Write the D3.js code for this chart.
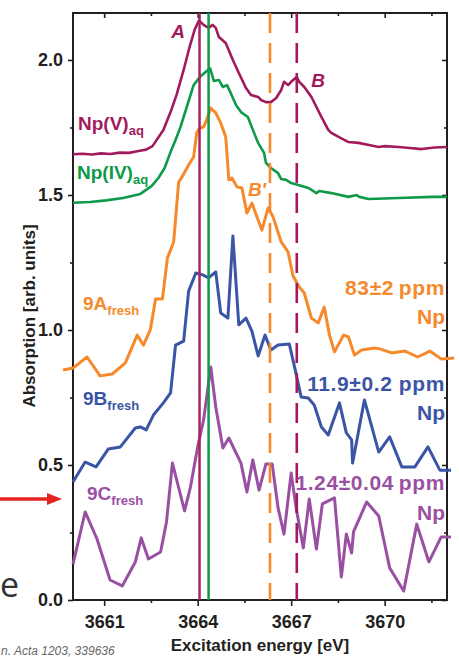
<!DOCTYPE html>
<html>
<head>
<meta charset="utf-8">
<script src="https://cdn.jsdelivr.net/npm/d3@7"></script>
<style>
  body { margin: 0; background: #fff; }
  svg { display: block; font-family: "Liberation Sans", Arial, sans-serif; }
</style>
</head>
<body>
<div class="chart"></div>
<script>
// energies [eV] and absorption [arb. units]
const npV = [
  [3660.0, 1.651], [3660.3, 1.653], [3660.6, 1.650], [3660.9, 1.654], [3661.2, 1.652],
  [3661.5, 1.657], [3661.8, 1.656], [3662.1, 1.663], [3662.35, 1.668], [3662.55, 1.681],
  [3662.9, 1.741], [3663.13, 1.807], [3663.32, 1.870], [3663.55, 1.963], [3663.74, 2.048],
  [3663.9, 2.111], [3664.04, 2.146], [3664.19, 2.130], [3664.35, 2.119], [3664.48, 2.130],
  [3664.58, 2.119], [3664.68, 2.085], [3664.9, 2.063], [3665.13, 2.0], [3665.32, 1.952],
  [3665.55, 1.896], [3665.71, 1.870], [3665.94, 1.863], [3666.03, 1.852], [3666.19, 1.844],
  [3666.35, 1.844], [3666.52, 1.859], [3666.68, 1.889], [3666.77, 1.919], [3666.9, 1.907],
  [3667.0, 1.919], [3667.18, 1.937], [3667.26, 1.919], [3667.42, 1.9], [3667.65, 1.863],
  [3667.97, 1.789], [3668.19, 1.741], [3668.29, 1.730], [3668.52, 1.715], [3668.84, 1.696],
  [3669.16, 1.693], [3669.5, 1.685], [3669.81, 1.678], [3670.0, 1.681], [3670.45, 1.678],
  [3670.8, 1.674], [3671.19, 1.670], [3671.6, 1.676], [3672.0, 1.678]
];
const npIV = [
  [3660.0, 1.471], [3660.55, 1.474], [3661.06, 1.480], [3661.61, 1.489], [3662.16, 1.504],
  [3662.52, 1.533], [3662.74, 1.563], [3662.94, 1.600], [3663.13, 1.659], [3663.29, 1.704],
  [3663.45, 1.752], [3663.68, 1.837], [3663.87, 1.907], [3664.1, 1.941], [3664.4, 1.969],
  [3664.52, 1.922], [3664.68, 1.926], [3664.81, 1.900], [3664.94, 1.907], [3665.06, 1.878],
  [3665.23, 1.833], [3665.39, 1.807], [3665.61, 1.789], [3665.81, 1.730], [3665.94, 1.693],
  [3666.13, 1.656], [3666.19, 1.619], [3666.35, 1.600], [3666.58, 1.581], [3666.68, 1.559],
  [3666.84, 1.556], [3667.0, 1.544], [3667.23, 1.537], [3667.55, 1.526], [3667.81, 1.507],
  [3667.9, 1.515], [3668.29, 1.507], [3668.84, 1.493], [3669.1, 1.500], [3669.19, 1.493],
  [3669.48, 1.485], [3670.45, 1.489], [3671.52, 1.493], [3672.0, 1.493]
];
const sample9A = [
  [3659.68, 0.852], [3660.0, 0.859], [3660.45, 0.900], [3660.87, 0.830], [3661.26, 0.837],
  [3661.68, 0.878], [3662.06, 0.981], [3662.26, 0.944], [3662.48, 1.000], [3662.65, 1.115],
  [3662.87, 1.115], [3663.03, 1.267], [3663.23, 1.326], [3663.39, 1.548], [3663.48, 1.563],
  [3663.71, 1.611], [3663.87, 1.641], [3663.97, 1.730], [3664.06, 1.748], [3664.19, 1.752],
  [3664.29, 1.778], [3664.42, 1.822], [3664.58, 1.804], [3664.74, 1.767], [3664.9, 1.715],
  [3665.0, 1.556], [3665.1, 1.563], [3665.26, 1.530], [3665.42, 1.526], [3665.58, 1.433],
  [3665.74, 1.470], [3665.9, 1.419], [3666.06, 1.370], [3666.26, 1.452], [3666.42, 1.419],
  [3666.68, 1.326], [3666.9, 1.289], [3667.06, 1.200], [3667.26, 1.159], [3667.42, 1.137],
  [3667.65, 1.044], [3667.87, 1.026], [3668.06, 1.085], [3668.23, 0.981], [3668.39, 0.919],
  [3668.68, 0.981], [3668.84, 0.974], [3669.03, 0.907], [3669.26, 0.926], [3669.68, 0.933],
  [3669.84, 0.930], [3670.23, 0.915], [3670.65, 0.922], [3671.06, 0.900], [3671.45, 0.922],
  [3671.81, 0.893], [3672.23, 0.896]
];
const sample9B = [
  [3660.0, 0.437], [3660.39, 0.511], [3660.74, 0.493], [3661.13, 0.559], [3661.52, 0.567],
  [3662.0, 0.637], [3662.16, 0.641], [3662.35, 0.630], [3662.58, 0.685], [3662.9, 0.730],
  [3663.13, 0.767], [3663.29, 0.944], [3663.55, 0.959], [3663.71, 1.144], [3663.94, 1.211],
  [3664.16, 1.204], [3664.35, 1.193], [3664.58, 1.215], [3664.74, 1.063], [3664.97, 1.044],
  [3665.13, 1.348], [3665.32, 1.019], [3665.55, 1.044], [3665.74, 0.996], [3665.94, 0.904],
  [3666.16, 0.981], [3666.35, 0.926], [3666.58, 0.944], [3666.94, 0.948], [3667.13, 0.852],
  [3667.32, 0.752], [3667.55, 0.748], [3667.74, 0.722], [3667.97, 0.641], [3668.19, 0.611],
  [3668.55, 0.730], [3668.77, 0.619], [3668.94, 0.593], [3668.97, 0.507], [3669.35, 0.741],
  [3669.81, 0.548], [3670.16, 0.604], [3670.55, 0.493], [3670.97, 0.493], [3671.39, 0.567],
  [3671.77, 0.481], [3672.13, 0.481]
];
const sample9C = [
  [3660.0, 0.133], [3660.39, 0.326], [3660.77, 0.226], [3661.19, 0.074], [3661.58, 0.052],
  [3662.0, 0.141], [3662.19, 0.230], [3662.42, 0.152], [3662.81, 0.178], [3663.0, 0.289],
  [3663.19, 0.507], [3663.58, 0.330], [3663.77, 0.419], [3664.0, 0.567], [3664.19, 0.667],
  [3664.42, 0.863], [3664.58, 0.715], [3664.81, 0.563], [3665.0, 0.600], [3665.39, 0.507],
  [3665.58, 0.400], [3665.77, 0.519], [3665.97, 0.407], [3666.19, 0.504], [3666.39, 0.504],
  [3666.58, 0.341], [3666.77, 0.244], [3667.0, 0.470], [3667.16, 0.341], [3667.39, 0.193],
  [3667.58, 0.374], [3667.81, 0.189], [3668.0, 0.356], [3668.39, 0.378], [3668.61, 0.085],
  [3668.77, 0.244], [3668.94, 0.174], [3669.0, 0.252], [3669.42, 0.363], [3669.81, 0.311],
  [3670.16, 0.119], [3670.61, 0.033], [3671.03, 0.281], [3671.42, 0.141], [3671.81, 0.233],
  [3672.13, 0.233]
];

// reference energies for A (Np(V), Np(IV)) and B', B
const solidLines = [3664.06, 3664.35];
const dashedLines = [3666.32, 3667.18];

const xMajor = [3661, 3664, 3667, 3670];
const xMinor = [3662.5, 3665.5, 3668.5, 3671.5];
const yMajor = [0, 0.5, 1.0, 1.5, 2.0];
const yMinor = [0.25, 0.75, 1.25, 1.75];

const maroon = '#a21a5c';
const green = '#0e9a48';
const orange = '#f5892b';
const blue = '#3b55a6';
const purple = '#9a50a2';
const ink = '#231f20';

const width = 459;
const height = 657;
const plotLeft = 73;
const plotRight = 447;
const plotTop = 13;
const plotBottom = 600;

const svg = d3
    .select('div.chart')
    .append('svg')
    .attr('width', width)
    .attr('height', height);

const x = d3.scaleLinear().domain([3660, 3672]).range([plotLeft, plotRight]);
const y = d3.scaleLinear().domain([0, 2.174]).range([plotBottom, plotTop]);

// axes: outward ticks with labels on bottom/left, inward mirror ticks top/right
function styleAxis(g) {
  g.select('.domain').remove();
  g.selectAll('line').attr('stroke', ink).attr('stroke-width', 1.6);
  g.selectAll('text')
      .attr('fill', ink)
      .attr('font-size', '18px')
      .attr('font-weight', 'bold');
}

svg.append('g')
    .attr('transform', `translate(0,${plotBottom})`)
    .call(d3.axisBottom(x).tickValues(xMajor).tickSize(6).tickPadding(9).tickFormat(d3.format('d')))
    .call(styleAxis);
svg.append('g')
    .attr('transform', `translate(0,${plotBottom})`)
    .call(d3.axisBottom(x).tickValues(xMinor).tickSize(3).tickFormat(''))
    .call(styleAxis);
svg.append('g')
    .attr('transform', `translate(0,${plotTop})`)
    .call(d3.axisTop(x).tickValues(xMajor).tickSize(-5).tickFormat(''))
    .call(styleAxis);
svg.append('g')
    .attr('transform', `translate(0,${plotTop})`)
    .call(d3.axisTop(x).tickValues(xMinor).tickSize(-3).tickFormat(''))
    .call(styleAxis);

svg.append('g')
    .attr('transform', `translate(${plotLeft},0)`)
    .call(d3.axisLeft(y).tickValues(yMajor).tickSize(5).tickPadding(5).tickFormat(d3.format('.1f')))
    .call(styleAxis);
svg.append('g')
    .attr('transform', `translate(${plotLeft},0)`)
    .call(d3.axisLeft(y).tickValues(yMinor).tickSize(3).tickFormat(''))
    .call(styleAxis);
svg.append('g')
    .attr('transform', `translate(${plotRight},0)`)
    .call(d3.axisRight(y).tickValues(yMajor).tickSize(-5).tickFormat(''))
    .call(styleAxis);
svg.append('g')
    .attr('transform', `translate(${plotRight},0)`)
    .call(d3.axisRight(y).tickValues(yMinor).tickSize(-3).tickFormat(''))
    .call(styleAxis);

svg.append('rect')
    .attr('x', plotLeft)
    .attr('y', plotTop)
    .attr('width', plotRight - plotLeft)
    .attr('height', plotBottom - plotTop)
    .attr('fill', 'none')
    .attr('stroke', ink)
    .attr('stroke-width', 2);

// spectra
const line = d3.line()
    .x((d) => x(d[0]))
    .y((d) => y(d[1]));

const series = [
  {data: npV, color: maroon, w: 2.6},
  {data: npIV, color: green, w: 2.6},
  {data: sample9A, color: orange, w: 3},
  {data: sample9B, color: blue, w: 3},
  {data: sample9C, color: purple, w: 3}
];

svg.selectAll('path.spectrum')
    .data(series)
    .enter()
    .append('path')
    .attr('class', 'spectrum')
    .attr('d', (d) => line(d.data))
    .attr('fill', 'none')
    .attr('stroke', (d) => d.color)
    .attr('stroke-width', (d) => d.w)
    .attr('stroke-linejoin', 'round');

// vertical reference lines
svg.selectAll('line.solid')
    .data(solidLines)
    .enter()
    .append('line')
    .attr('class', 'solid')
    .attr('x1', (d) => x(d))
    .attr('x2', (d) => x(d))
    .attr('y1', plotTop)
    .attr('y2', plotBottom)
    .attr('stroke', (d, i) => (i === 0 ? '#a8235f' : green))
    .attr('stroke-width', 2.5);

svg.selectAll('line.dashed')
    .data(dashedLines)
    .enter()
    .append('line')
    .attr('class', 'dashed')
    .attr('x1', (d) => x(d))
    .attr('x2', (d) => x(d))
    .attr('y1', plotTop)
    .attr('y2', plotBottom)
    .attr('stroke', (d, i) => (i === 0 ? orange : maroon))
    .attr('stroke-width', 2.6)
    .attr('stroke-dasharray', '20,10');

// labels
function subLabel(text, sub, px, py, color) {
  const t = svg.append('text')
      .attr('x', px)
      .attr('y', py)
      .attr('fill', color)
      .attr('font-size', '19px')
      .attr('font-weight', 'bold');
  t.append('tspan').text(text);
  t.append('tspan').attr('dy', 5).attr('font-size', '13px').text(sub);
}
subLabel('Np(V)', 'aq', 78, 130, maroon);
subLabel('Np(IV)', 'aq', 77, 179, green);
subLabel('9A', 'fresh', 83, 310, orange);
subLabel('9B', 'fresh', 83, 405, blue);
subLabel('9C', 'fresh', 87, 500, purple);

const peakLabels = [
  {t: 'A', x: 178, y: 38, c: maroon},
  {t: 'B', x: 318, y: 87, c: maroon},
  {t: 'B\'', x: 257, y: 196, c: orange}
];
svg.selectAll('text.peak')
    .data(peakLabels)
    .enter()
    .append('text')
    .attr('class', 'peak')
    .attr('x', (d) => d.x)
    .attr('y', (d) => d.y)
    .attr('text-anchor', 'middle')
    .attr('fill', (d) => d.c)
    .attr('font-size', '19px')
    .attr('font-weight', 'bold')
    .attr('font-style', 'italic')
    .text((d) => d.t);

const concLabels = [
  {t: '83\u00b12\u2009ppm', y: 295, c: orange},
  {t: 'Np', y: 324, c: orange},
  {t: '11.9\u00b10.2 ppm', y: 391, c: blue},
  {t: 'Np', y: 420, c: blue},
  {t: '1.24\u00b10.04\u2009ppm', y: 490, c: purple},
  {t: 'Np', y: 520, c: purple}
];
svg.selectAll('text.conc')
    .data(concLabels)
    .enter()
    .append('text')
    .attr('class', 'conc')
    .attr('x', 445)
    .attr('y', (d) => d.y)
    .attr('text-anchor', 'end')
    .attr('fill', (d) => d.c)
    .attr('font-size', '21px')
    .attr('font-weight', 'bold')
    .attr('letter-spacing', (d) => (d.t === 'Np' ? 0 : 0.6))
    .text((d) => d.t);

// axis titles
svg.append('text')
    .attr('transform', 'translate(35,316) rotate(-90)')
    .attr('text-anchor', 'middle')
    .attr('fill', ink)
    .attr('font-size', '17px')
    .attr('font-weight', 'bold')
    .text('Absorption [arb. units]');

svg.append('text')
    .attr('x', 260)
    .attr('y', 651)
    .attr('text-anchor', 'middle')
    .attr('fill', ink)
    .attr('font-size', '17px')
    .attr('font-weight', 'bold')
    .text('Excitation energy [eV]');

// bits of the surrounding slide
svg.append('line')
    .attr('x1', 0).attr('x2', 50)
    .attr('y1', 499).attr('y2', 499)
    .attr('stroke', '#e52421')
    .attr('stroke-width', 3.5);
svg.append('path')
    .attr('d', 'M47,493 L62,499 L47,505 Z')
    .attr('fill', '#e52421');

svg.append('text')
    .attr('x', 0)
    .attr('y', 597)
    .attr('fill', '#333')
    .attr('font-family', '"Open Sans", sans-serif')
    .attr('font-size', '34px')
    .text('e');

svg.append('text')
    .attr('x', 1)
    .attr('y', 655)
    .attr('fill', '#666')
    .attr('font-size', '12px')
    .attr('font-style', 'italic')
    .text('n. Acta 1203, 339636');
</script>
</body>
</html>
